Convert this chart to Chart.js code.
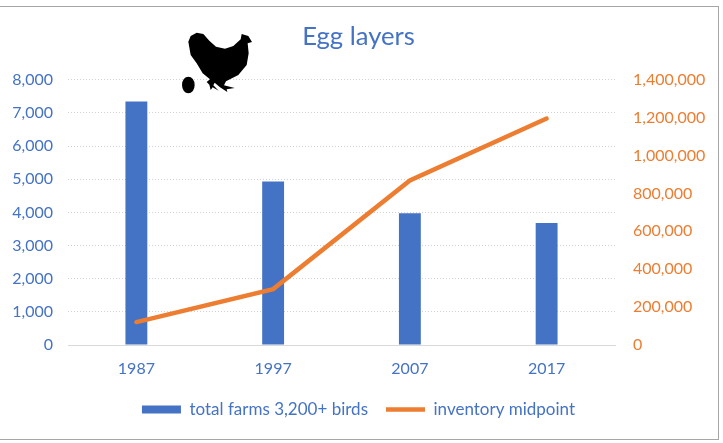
<!DOCTYPE html>
<html>
<head>
<meta charset="utf-8">
<title>Egg layers</title>
<script src="https://cdn.jsdelivr.net/npm/chart.js@4"></script>
<style>
  html, body { margin: 0; padding: 0; background: #fff; }
  #wrap { position: relative; width: 723px; height: 443px; overflow: hidden; }
  #frame { position: absolute; left: -2px; top: 6px; width: 719px; height: 432px; border: 1px solid #a6a6a6; }
  #hen { position: absolute; left: 170px; top: 10px; }
</style>
</head>
<body>
<div id="wrap">
  <div id="frame"></div>
  <canvas id="eggChart" width="723" height="443"></canvas>
  <svg id="hen" width="110" height="100" viewBox="0 0 330 300">
    <ellipse cx="55" cy="225" rx="19" ry="25" fill="#000"/>
    <path fill="#000" d="M55 95 L62 78 L80 68 L100 72 L118 92 L138 110 L165 116 L190 108 L212 88 L215 72 L235 78 L246 96 L233 100 L236 130 L230 165 L205 195 L168 214 L162 226 L194 234 L170 238 L172 246 L150 232 L134 218 L130 226 L146 242 L128 232 L122 240 L118 224 L110 216 L120 208 L98 190 L80 160 L62 135 Z"/>
  </svg>
</div>
<script>
const years = ['1987', '1997', '2007', '2017'];
const totalFarms = [7340, 4930, 3970, 3680];
const inventoryMidpoint = [121000, 295000, 868000, 1195000];

const blue = '#4472c4';
const orange = '#ed7d31';
const fontName = 'Lato, "Open Sans", sans-serif';

new Chart(document.getElementById('eggChart'), {
    data: {
        labels: years,
        datasets: [
            {
                type: 'bar',
                label: 'total farms 3,200+ birds',
                data: totalFarms,
                backgroundColor: blue,
                barPercentage: 0.16,
                categoryPercentage: 1,
                yAxisID: 'y',
                order: 2
            },
            {
                type: 'line',
                label: 'inventory midpoint',
                data: inventoryMidpoint,
                borderColor: orange,
                backgroundColor: orange,
                borderWidth: 4.5,
                borderCapStyle: 'round',
                pointRadius: 0,
                tension: 0,
                yAxisID: 'y1',
                order: 1
            }
        ]
    },
    options: {
        responsive: false,
        animation: false,
        layout: { padding: { left: 0, right: 6, top: 0, bottom: 15 } },
        plugins: {
            title: {
                display: true,
                text: 'Egg layers',
                color: blue,
                font: { family: fontName, size: 25.6, weight: 'normal' },
                padding: { top: 21, bottom: 28 }
            },
            legend: {
                position: 'bottom',
                labels: {
                    color: blue,
                    font: { family: fontName, size: 17 },
                    usePointStyle: true,
                    pointStyleWidth: 39,
                    boxHeight: 8,
                    padding: 18,
                    generateLabels: function (chart) {
                        return chart.data.datasets.map(function (ds, i) {
                            return {
                                text: ds.label,
                                datasetIndex: i,
                                fontColor: blue,
                                fillStyle: ds.type === 'bar' ? blue : orange,
                                strokeStyle: ds.type === 'bar' ? blue : orange,
                                lineWidth: ds.type === 'bar' ? 0 : 4.5,
                                pointStyle: ds.type === 'bar' ? 'rect' : 'line'
                            };
                        });
                    }
                }
            },
            tooltip: { enabled: false }
        },
        scales: {
            x: {
                afterFit: function (scale) { scale.height = 38; },
                grid: { display: false },
                border: { color: '#d9d9d9', width: 1 },
                ticks: {
                    color: blue,
                    font: { family: fontName, size: 16 },
                    padding: 6
                }
            },
            y: {
                position: 'left',
                min: 0,
                max: 8000,
                afterFit: function (scale) { scale.width = 68; },
                grid: { color: '#d0d0d0', lineWidth: 1, drawTicks: false },
                border: { display: false, dash: [1, 2] },
                ticks: {
                    stepSize: 1000,
                    color: blue,
                    font: { family: fontName, size: 16 },
                    padding: 15,
                    callback: function (v) { return v.toLocaleString('en-US'); }
                }
            },
            y1: {
                position: 'right',
                min: 0,
                max: 1400000,
                afterFit: function (scale) { scale.width = 102; },
                grid: { display: false },
                border: { display: false },
                ticks: {
                    stepSize: 200000,
                    color: orange,
                    font: { family: fontName, size: 16 },
                    padding: 10,
                    callback: function (v) { return v.toLocaleString('en-US'); }
                }
            }
        }
    }
});
</script>
</body>
</html>
